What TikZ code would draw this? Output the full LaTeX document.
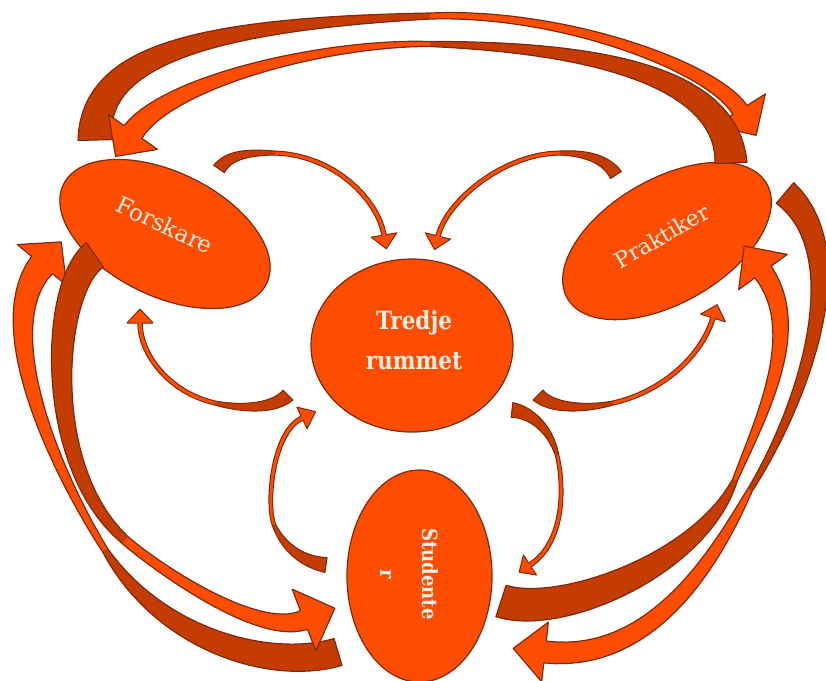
\documentclass[tikz,border=0pt]{standalone}
\usepackage{fontspec}
\setmainfont{DejaVu Serif}
\newfontfamily\condserif[FakeStretch=0.86]{DejaVu Serif}
\usetikzlibrary{shapes.geometric}
\definecolor{lite}{HTML}{FF4D00}
\definecolor{dark}{HTML}{C43C00}
\definecolor{edge}{HTML}{7F2A10}
\definecolor{txt}{HTML}{FFEFE8}
\def\nS{30}
\newcommand\arrSegA[8]{\def\pAx{#1}\def\pAy{#2}\def\pBx{#3}\def\pBy{#4}\def\pCx{#5}\def\pCy{#6}\def\pDx{#7}\def\pDy{#8}}
\newcommand\arrSegB[6]{\def\qBx{#1}\def\qBy{#2}\def\qCx{#3}\def\qCy{#4}\def\qDx{#5}\def\qDy{#6}}
\newcommand\arrWid[7]{\def\wA{#1}\def\wM{#2}\def\wB{#3}\def\hW{#4}\def\hL{#5}\def\kA{#6}\def\kB{#7}}
% offset-curve builder: #1..#8 control points of a cubic, #9 = A (tail half) or B (head half)
\newcommand\buildSeg[9]{%
  \gdef\outL{}\gdef\inL{}%
  \foreach \i in {0,...,\nS}{%
    \pgfmathsetmacro\tT{\i/\nS}%
    \pgfmathsetmacro\uU{1-\tT}%
    \pgfmathsetmacro\bX{\uU*\uU*\uU*(#1)+3*\uU*\uU*\tT*(#3)+3*\uU*\tT*\tT*(#5)+\tT*\tT*\tT*(#7)}%
    \pgfmathsetmacro\bY{\uU*\uU*\uU*(#2)+3*\uU*\uU*\tT*(#4)+3*\uU*\tT*\tT*(#6)+\tT*\tT*\tT*(#8)}%
    \pgfmathsetmacro\dX{3*\uU*\uU*((#3)-(#1))+6*\uU*\tT*((#5)-(#3))+3*\tT*\tT*((#7)-(#5))}%
    \pgfmathsetmacro\dY{3*\uU*\uU*((#4)-(#2))+6*\uU*\tT*((#6)-(#4))+3*\tT*\tT*((#8)-(#6))}%
    \pgfmathsetmacro\nR{100*veclen(\dX/100,\dY/100)}%
    \if#9A%
      \pgfmathsetmacro\wW{0.5*(\wM+(\wA-\wM)*\uU*(1-(\kA)*\tT))}%
    \else
      \pgfmathsetmacro\wW{0.5*(\wM+(\wB-\wM)*\tT*(1-(\kB)*\uU))}%
    \fi
    \pgfmathsetmacro\oX{\bX-\wW*(\dY/\nR)}%
    \pgfmathsetmacro\oY{\bY+\wW*(\dX/\nR)}%
    \pgfmathsetmacro\iX{\bX+\wW*(\dY/\nR)}%
    \pgfmathsetmacro\iY{\bY-\wW*(\dX/\nR)}%
    \ifnum\i=0 \xdef\sX{\oX}\xdef\sY{\oY}\fi
    \xdef\outL{\outL -- (\oX,\oY)}%
    \xdef\inL{-- (\iX,\iY) \inL}%
  }%
}
\newcommand\drawArrow[1]{%
  \buildSeg{\pAx}{\pAy}{\pBx}{\pBy}{\pCx}{\pCy}{\pDx}{\pDy}{A}%
  \let\outA\outL \let\inA\inL \let\startX\sX \let\startY\sY
  \buildSeg{\pDx}{\pDy}{\qBx}{\qBy}{\qCx}{\qCy}{\qDx}{\qDy}{B}%
  \let\outB\outL \let\inB\inL
  \pgfmathsetmacro\hTl{100*veclen(((\qDx)-(\qCx))/100,((\qDy)-(\qCy))/100)}%
  \pgfmathsetmacro\hTx{((\qDx)-(\qCx))/\hTl}%
  \pgfmathsetmacro\hTy{((\qDy)-(\qCy))/\hTl}%
  \pgfmathsetmacro\hOx{\qDx-\hW*(\hTy)}%
  \pgfmathsetmacro\hOy{\qDy+\hW*(\hTx)}%
  \pgfmathsetmacro\hPx{\qDx+\hL*(\hTx)}%
  \pgfmathsetmacro\hPy{\qDy+\hL*(\hTy)}%
  \pgfmathsetmacro\hIx{\qDx+\hW*(\hTy)}%
  \pgfmathsetmacro\hIy{\qDy-\hW*(\hTx)}%
  \edef\doFill{\noexpand\fill[lite] (\startX,\startY) \outA \outB -- (\hOx,\hOy) -- (\hPx,\hPy) -- (\hIx,\hIy) \inB \inA -- cycle;}%
  \edef\doDark{\noexpand\fill[dark] (\startX,\startY) \outA \inA -- cycle;}%
  \edef\doDraw{\noexpand\draw[edge,line width=#1,line join=round] (\startX,\startY) \outA \outB -- (\hOx,\hOy) -- (\hPx,\hPy) -- (\hIx,\hIy) \inB \inA -- cycle;}%
  \doFill\doDark\doDraw
}
\begin{document}
\begin{tikzpicture}[x=1pt,y=-1pt,
  ell/.style={ellipse, draw=edge, fill=lite, line width=1.2pt, inner sep=0pt},
  lbl/.style={text=txt, inner sep=0pt},
]
\fill[white] (0,0) rectangle (826,680);
\useasboundingbox (0,0) rectangle (826,680);

% ellipses
\node[ell, minimum width=226pt, minimum height=124pt, rotate=-26] (forskare) at (165,234) {};
\node[ell, minimum width=230pt, minimum height=124pt, rotate=30] (praktiker) at (667,241) {};
\node[ell, minimum width=202pt, minimum height=173pt] (tredje) at (412,345.5) {};
\node[ell, minimum width=145pt, minimum height=212pt] (studenter) at (419.5,576) {};

% big arrows
\def\nS{30}
% outer top: Forskare -> Praktiker
\arrSegA{95}{140}{93}{60}{190}{25}{430}{16}
\arrSegB{560}{11}{712}{66}{740}{110}
\arrWid{34}{6}{17}{30}{30}{0}{0.5}
\drawArrow{1.2pt}
% inner top: Praktiker -> Forskare
\arrSegA{731}{163}{728}{85}{620}{48}{430}{44}
\arrSegB{330}{42}{170}{80}{133}{132}
\arrWid{32}{5}{22}{30}{30}{0}{0.5}
\drawArrow{1.2pt}
% outer left: Studenter -> Forskare
\arrSegA{338}{652}{270}{672}{160}{640}{105}{550}
\arrSegB{62}{482}{-12}{330}{42}{265}
\arrWid{28}{6}{27}{32}{30}{-1}{0.6}
\drawArrow{1.2pt}
% inner left: Forskare -> Studenter
\arrSegA{95}{255}{52}{285}{40}{465}{125}{540}
\arrSegB{155}{566}{257}{638}{304}{620}
\arrWid{30}{9}{20}{33}{33}{0}{1}
\drawArrow{1.2pt}
% outer right: Praktiker -> Studenter
\arrSegA{785}{193}{858}{255}{800}{410}{750}{490}
\arrSegB{723}{541}{660}{665}{545}{652}
\arrWid{27}{5}{22}{30}{32}{0.5}{-0.5}
\drawArrow{1.2pt}
% inner right: Studenter -> Praktiker
\arrSegA{501}{601}{560}{620}{700}{565}{735}{480}
\arrSegB{762}{415}{805}{330}{763}{272}
\arrWid{33}{5}{20}{30}{32}{-1}{0}
\drawArrow{1.2pt}

% small arrows
\def\nS{16}
% Forskare -> Tredje
\arrSegA{219}{169}{228}{156}{245}{152}{275}{153}
\arrSegB{335}{155}{378}{200}{384}{235}
\arrWid{13}{4}{4.5}{13}{14}{0}{0}
\drawArrow{1pt}
% Praktiker -> Tredje
\arrSegA{616}{175}{607}{161}{590}{153}{560}{153}
\arrSegB{505}{153}{447}{200}{438}{236}
\arrWid{13}{4}{4.5}{13}{14}{0}{0}
\drawArrow{1pt}
% Tredje -> Forskare
\arrSegA{288}{395}{275}{408}{245}{410}{215}{403}
\arrSegB{170}{393}{140}{355}{140}{323}
\arrWid{14}{4}{4.5}{13}{14}{0}{0}
\drawArrow{1pt}
% Tredje -> Praktiker
\arrSegA{538}{395}{551}{408}{583}{410}{613}{403}
\arrSegB{658}{393}{700}{360}{713}{318}
\arrWid{14}{4}{4.5}{13}{14}{0}{0}
\drawArrow{1pt}
% Studenter -> Tredje
\arrSegA{326}{565}{305}{562}{285}{550}{274}{525}
\arrSegB{266}{505}{272}{432}{302}{418}
\arrWid{15}{3.5}{4.5}{12}{15}{0}{0}
\drawArrow{1pt}
% Tredje -> Studenter
\arrSegA{512}{410}{530}{412}{550}{428}{557}{455}
\arrSegB{563}{478}{568}{540}{530}{565}
\arrWid{15}{3.5}{4.5}{12}{13}{0}{0}
\drawArrow{1pt}

% labels
\node[lbl, rotate=-25, font=\fontsize{23}{27}\selectfont] (forskare-t) at (165,225) {Forskare};
\node[lbl, rotate=30, font=\fontsize{22}{26}\selectfont] (praktiker-t) at (662,236) {Praktiker};
\node[lbl, align=center, font=\condserif\bfseries\fontsize{25}{40}\selectfont] (tredje-t) at (414,340.5) {Tredje\\rummet};
\node[lbl, align=center, rotate=-90, font=\condserif\bfseries\fontsize{21}{42}\selectfont] (studenter-t) at (409,574) {Studente\\r};
\end{tikzpicture}
\end{document}
